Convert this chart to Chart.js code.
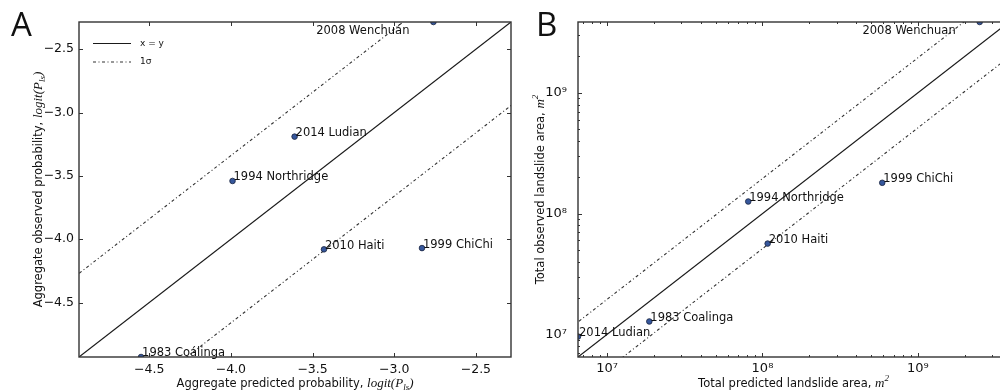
<!DOCTYPE html>
<html lang="en">
<head>
<meta charset="UTF-8">
<title>Landslide probability and area: predicted vs observed</title>
<script src="https://cdn.jsdelivr.net/npm/chart.js"></script>
<style>
  html, body { margin: 0; padding: 0; background: #fff; width: 1000px; height: 392px; overflow: hidden; }
  canvas { position: absolute; top: 0; }
  #chartA { left: 0; }
  #chartB { left: 516px; }
</style>
</head>
<body>
<canvas id="chartA" width="516" height="392"></canvas>
<canvas id="chartB" width="504" height="392"></canvas>
<script>
// event names (panel A uses the accented spellings from the figure)
const labelsA = ['1983 Coálinga', '1994 Northridge', '1999 ChiChi', '2008 Wenchuán', '2010 Haiti', '2014 Ludian'];
const labelsB = ['1983 Coalinga', '1994 Northridge', '1999 ChiChi', '2008 Wenchuan', '2010 Haiti', '2014 Ludian'];

// panel A: aggregate probabilities, logit(P_ls)
const predictedLogit = [-4.55, -3.99, -2.83, -2.76, -3.43, -3.61];
const observedLogit  = [-4.93, -3.54, -4.07, -2.285, -4.08, -3.19];

// panel B: total landslide area, m^2
const predictedArea = [1.87e7, 8.1e7, 5.9e8, 2.5e9, 1.08e8, 6.5e6];
const observedArea  = [1.28e7, 1.26e8, 1.8e8, 3.86e9, 5.65e7, 9.6e6];

const limitsA = [-4.93, -2.285];
const limitsB = [6.5e6, 3.86e9];
const ticksA = [-4.5, -4.0, -3.5, -3.0, -2.5];
const decadesB = [1e6, 1e7, 1e8, 1e9];
const tickLabelsB = { 1e7: '10⁷', 1e8: '10⁸', 1e9: '10⁹' };
const sigmaA = 0.66;   // 1 sigma band, logit units
const sigmaB = 0.29;   // 1 sigma band, log10 units

const TEXT = '#111';
const SANS = '"DejaVu Sans"';

function minusFmt(v) {
  return (v < 0 ? '\u2212' : '') + Math.abs(v).toFixed(1);
}

function drawRich(ctx, parts, cx, cy, angle) {
  ctx.save();
  ctx.translate(cx, cy);
  ctx.rotate(angle);
  ctx.fillStyle = TEXT;
  ctx.textBaseline = 'alphabetic';
  let w = 0;
  parts.forEach(p => { ctx.font = p.font; p.w = ctx.measureText(p.text).width; w += p.w; });
  let x = -w / 2;
  parts.forEach(p => { ctx.font = p.font; ctx.fillText(p.text, x, p.dy || 0); x += p.w; });
  ctx.restore();
}

// box round the axes with inward ticks on all four sides
const framePlugin = {
  id: 'frame',
  afterDraw(chart) {
    const { ctx, chartArea: a } = chart;
    const x = chart.scales.x, y = chart.scales.y;
    const L = Math.round(a.left), R = Math.round(a.right);
    const T = Math.round(a.top), B = Math.round(a.bottom);
    ctx.save();
    ctx.strokeStyle = '#333';
    ctx.lineWidth = 1.4;
    ctx.strokeRect(L, T, R - L, B - T);
    ctx.lineWidth = 1;
    ctx.beginPath();
    x.ticks.forEach(t => {
      const px = Math.round(x.getPixelForValue(t.value)) + 0.5;
      const len = t.label !== '' ? 4 : 2;
      ctx.moveTo(px, B); ctx.lineTo(px, B - len);
      ctx.moveTo(px, T); ctx.lineTo(px, T + len);
    });
    y.ticks.forEach(t => {
      const py = Math.round(y.getPixelForValue(t.value)) + 0.5;
      const len = t.label !== '' ? 4 : 2;
      ctx.moveTo(L, py); ctx.lineTo(L + len, py);
      ctx.moveTo(R, py); ctx.lineTo(R - len, py);
    });
    ctx.stroke();
    ctx.restore();
  }
};

// event names next to the points, panel letter, axis titles, legend
const notesPlugin = {
  id: 'notes',
  afterDraw(chart, args, opts) {
    const { ctx, chartArea: a } = chart;
    const meta = chart.getDatasetMeta(0);
    ctx.save();
    ctx.fillStyle = TEXT;
    ctx.font = '11.5px ' + SANS;
    ctx.textBaseline = 'middle';
    meta.data.forEach((pt, i) => {
      if (i === opts.shifted) {
        ctx.textAlign = 'right';
        ctx.fillText(opts.names[i], pt.x - 24, pt.y + 9);
      } else {
        ctx.textAlign = 'left';
        ctx.fillText(opts.names[i], pt.x + 1, pt.y - 3.5);
      }
    });

    ctx.font = '33px "Open Sans"';
    ctx.textAlign = 'left';
    ctx.textBaseline = 'alphabetic';
    ctx.fillText(opts.letter, opts.letterX, 36);
    ctx.restore();

    const cx = (a.left + a.right) / 2, cy = (a.top + a.bottom) / 2;
    drawRich(ctx, opts.xTitle, cx, 387, 0);
    drawRich(ctx, opts.yTitle, opts.yTitleX, cy, -Math.PI / 2);

    if (opts.legend) {
      ctx.save();
      ctx.font = '9px ' + SANS;
      ctx.textBaseline = 'middle';
      ctx.fillStyle = TEXT;
      [1, 2].forEach((di, k) => {
        const ds = chart.data.datasets[di];
        const ly = 43.5 + k * 18.5;
        ctx.strokeStyle = ds.borderColor;
        ctx.lineWidth = ds.borderWidth;
        ctx.setLineDash(ds.borderDash || []);
        ctx.beginPath(); ctx.moveTo(a.left + 14, ly); ctx.lineTo(a.left + 52, ly); ctx.stroke();
        ctx.fillText(ds.label, a.left + 61, ly);
      });
      ctx.restore();
    }
  }
};

const pointStyle = {
  pointRadius: 2.8,
  pointBackgroundColor: '#36579c',
  pointBorderColor: '#18223d',
  pointBorderWidth: 0.8,
  showLine: false,
  clip: 0
};
const solidLine = { showLine: true, pointRadius: 0, borderColor: '#1a1a1a', borderWidth: 1.2, clip: 0 };
const sigmaLine = { showLine: true, pointRadius: 0, borderColor: '#333', borderWidth: 1.1, borderDash: [3, 2.5, 1, 2.5], clip: 0 };

function tickFont() { return { family: 'DejaVu Sans', size: 12.5 }; }

// ---- panel A ----
const lo = limitsA[0] - 1, hi = limitsA[1] + 1;
new Chart(document.getElementById('chartA'), {
  type: 'scatter',
  data: {
    datasets: [
      Object.assign({ label: 'events', data: predictedLogit.map((v, i) => ({ x: v, y: observedLogit[i] })) }, pointStyle),
      Object.assign({ label: 'x = y', data: [{ x: lo, y: lo }, { x: hi, y: hi }] }, solidLine),
      Object.assign({ label: '1σ', data: [{ x: lo, y: lo + sigmaA }, { x: hi, y: hi + sigmaA }] }, sigmaLine),
      Object.assign({ label: '', data: [{ x: lo, y: lo - sigmaA }, { x: hi, y: hi - sigmaA }] }, sigmaLine)
    ]
  },
  options: {
    responsive: false,
    animation: false,
    devicePixelRatio: 1,
    layout: { padding: { left: 0, top: 22, right: 5, bottom: 0 } },
    plugins: {
      legend: { display: false },
      tooltip: { enabled: false },
      notes: {
        names: labelsA, shifted: 3, letter: 'A', letterX: 11, yTitleX: 41.5, legend: true,
        xTitle: [
          { text: 'Aggregate predicted probability, ', font: '11.5px ' + SANS },
          { text: 'logit(P', font: 'italic 13px "Liberation Serif"' },
          { text: 'ls', font: 'italic 9px "Liberation Serif"', dy: 3 },
          { text: ')', font: 'italic 13px "Liberation Serif"' }
        ],
        yTitle: [
          { text: 'Aggregate observed probability, ', font: '11.5px ' + SANS },
          { text: 'logit(P', font: 'italic 13px "Liberation Serif"' },
          { text: 'ls', font: 'italic 9px "Liberation Serif"', dy: 3 },
          { text: ')', font: 'italic 13px "Liberation Serif"' }
        ]
      }
    },
    scales: {
      x: {
        type: 'linear', min: limitsA[0], max: limitsA[1],
        afterBuildTicks: s => { s.ticks = ticksA.map(v => ({ value: v })); },
        afterFit: s => { s.height = 35; },
        grid: { display: false, drawTicks: false },
        border: { display: false },
        ticks: { padding: 5, color: TEXT, font: tickFont(), maxRotation: 0, autoSkip: false, callback: minusFmt }
      },
      y: {
        type: 'linear', min: limitsA[0], max: limitsA[1],
        afterBuildTicks: s => { s.ticks = ticksA.map(v => ({ value: v })); },
        afterFit: s => { s.width = 79; },
        grid: { display: false, drawTicks: false },
        border: { display: false },
        ticks: { padding: 5, color: TEXT, font: tickFont(), autoSkip: false, callback: minusFmt }
      }
    }
  },
  plugins: [framePlugin, notesPlugin]
});

// ---- panel B ----
function logTicks(s) {
  const out = [];
  decadesB.forEach(d => {
    for (let k = 1; k <= 9; k++) {
      const v = k * d;
      if (v >= limitsB[0] && v <= limitsB[1]) out.push({ value: v });
    }
  });
  s.ticks = out;
}
const bLo = limitsB[0] / 10, bHi = limitsB[1] * 10;
const up = Math.pow(10, sigmaB);
new Chart(document.getElementById('chartB'), {
  type: 'scatter',
  data: {
    datasets: [
      Object.assign({ label: 'events', data: predictedArea.map((v, i) => ({ x: v, y: observedArea[i] })) }, pointStyle),
      Object.assign({ label: 'x = y', data: [{ x: bLo, y: bLo }, { x: bHi, y: bHi }] }, solidLine),
      Object.assign({ label: '1σ', data: [{ x: bLo, y: bLo * up }, { x: bHi, y: bHi * up }] }, sigmaLine),
      Object.assign({ label: '', data: [{ x: bLo, y: bLo / up }, { x: bHi, y: bHi / up }] }, sigmaLine)
    ]
  },
  options: {
    responsive: false,
    animation: false,
    devicePixelRatio: 1,
    layout: { padding: { left: 0, top: 22, right: 11, bottom: 0 } },
    plugins: {
      legend: { display: false },
      tooltip: { enabled: false },
      notes: {
        names: labelsB, shifted: 3, letter: 'B', letterX: 20, yTitleX: 28, legend: false,
        xTitle: [
          { text: 'Total predicted landslide area, ', font: '11.5px ' + SANS },
          { text: 'm', font: 'italic 13px "Liberation Serif"' },
          { text: '2', font: 'italic 9px "Liberation Serif"', dy: -6 }
        ],
        yTitle: [
          { text: 'Total observed landslide area, ', font: '11.5px ' + SANS },
          { text: 'm', font: 'italic 13px "Liberation Serif"' },
          { text: '2', font: 'italic 9px "Liberation Serif"', dy: -6 }
        ]
      }
    },
    scales: {
      x: {
        type: 'logarithmic', min: limitsB[0], max: limitsB[1],
        afterBuildTicks: logTicks,
        afterFit: s => { s.height = 35; },
        grid: { display: false, drawTicks: false },
        border: { display: false },
        ticks: { padding: 4, color: TEXT, font: { family: 'DejaVu Sans', size: 13 }, maxRotation: 0, autoSkip: false, callback: v => tickLabelsB[v] || '' }
      },
      y: {
        type: 'logarithmic', min: limitsB[0], max: limitsB[1],
        afterBuildTicks: logTicks,
        afterFit: s => { s.width = 62; },
        grid: { display: false, drawTicks: false },
        border: { display: false },
        ticks: { padding: 11, color: TEXT, font: { family: 'DejaVu Sans', size: 13 }, autoSkip: false, callback: v => tickLabelsB[v] || '' }
      }
    }
  },
  plugins: [framePlugin, notesPlugin]
});
</script>
</body>
</html>
